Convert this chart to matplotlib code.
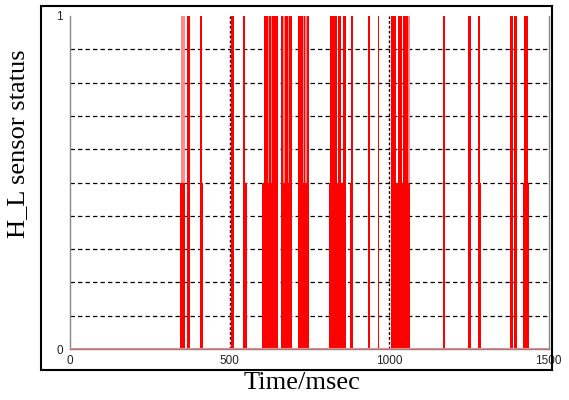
import matplotlib
matplotlib.use("Agg")
import matplotlib.pyplot as plt
from matplotlib.patches import Rectangle

# Pulse intervals (ms) reaching full height (0 -> 1)
full_pulses = [
    (366, 376), (409, 415), (504, 514), (542, 549),
    (609, 621), (624, 630), (633, 653),
    (660, 667), (674, 683), (688, 697),
    (715, 731), (732, 737), (742, 749),
    (815, 836), (839, 849), (857, 864),
    (880, 886), (934, 940), (964, 970),
    (1006, 1021), (1029, 1040), (1045, 1058),
    (1169, 1175), (1249, 1256), (1280, 1286),
    (1379, 1390), (1393, 1402), (1424, 1435),
]
# Dense switching regions filling the lower half (0 -> 0.5)
half_pulses = [
    (345, 361), (408, 416), (541, 554),
    (603, 632), (635, 653), (661, 697), (715, 749),
    (813, 864), (879, 887), (1006, 1066),
    (1168, 1176), (1247, 1257), (1279, 1287), (1421, 1439),
]
# Faint (partially covered) upper parts (0.5 -> 1)
faint_pulses = [
    (348, 361), (621, 624), (630, 633), (667, 674), (683, 688),
    (731, 742), (1058, 1066),
]

x_ticks = [0, 500, 1000, 1500]
y_ticks = [0, 1]
grid_levels = [0.1, 0.2, 0.3, 0.4, 0.5, 0.6, 0.7, 0.8, 0.9]
marker_times = [500, 1000]

fig = plt.figure(figsize=(5.69, 4.00), dpi=100)
ax = fig.add_axes([70 / 569, (400 - 349) / 400, 478.5 / 569, 333 / 400])

# grid
for g in grid_levels:
    ax.axhline(g, color="black", lw=0.9, ls=(0, (3.5, 2.5)), zorder=1)
for m in marker_times:
    ax.axvline(m, color="black", lw=1.0, ls=(0, (2, 1.5)), zorder=1)

red = "#ff0000"
ax.broken_barh([(a, b - a) for a, b in faint_pulses], (0.5, 0.5),
               facecolors="#ff8a8a", edgecolor="none", zorder=2)
ax.broken_barh([(a, b - a) for a, b in half_pulses], (0, 0.5),
               facecolors=red, edgecolor="none", zorder=3)
ax.broken_barh([(a, b - a) for a, b in full_pulses], (0, 1),
               facecolors=red, edgecolor="none", zorder=3)
ax.axhline(0, color="#ff8080", lw=1.5, zorder=4)

ax.set_xlim(0, 1500)
ax.set_ylim(0, 1)
ax.set_xticks(x_ticks)
ax.set_xticklabels([str(v) for v in x_ticks], family="Liberation Sans")
ax.set_yticks(y_ticks)
ax.set_yticklabels([str(v) for v in y_ticks], family="Liberation Sans")
ax.tick_params(length=0, labelsize=8.5, colors="#222222")
ax.tick_params(axis="x", pad=4)
ax.tick_params(axis="y", pad=5)

for s in ["left", "right", "bottom"]:
    ax.spines[s].set_color("#888888")
    ax.spines[s].set_linewidth(1.0)
ax.spines["top"].set_visible(False)

fig.text(0.032, (400 - 144) / 400, "H_L sensor status", rotation=90,
         ha="center", va="center", fontsize=19, family="Liberation Serif")
fig.text(302 / 569, (400 - 383) / 400, "Time/msec", ha="center", va="center",
         fontsize=19, family="Liberation Serif")

fig.add_artist(Rectangle((41 / 569, 30 / 400), 511 / 569, 364 / 400,
                         transform=fig.transFigure, fill=False,
                         edgecolor="black", lw=1.5))

fig.savefig("out.png", dpi=100)
